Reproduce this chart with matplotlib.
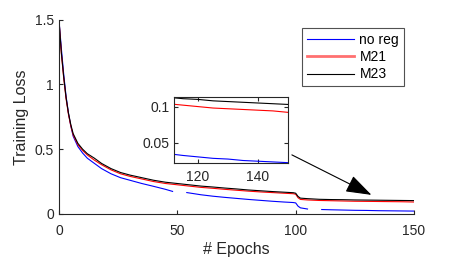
import numpy as np
import matplotlib
matplotlib.use("Agg")
import matplotlib.pyplot as plt
from matplotlib.lines import Line2D

plt.rcParams['font.family'] = ['Liberation Sans', 'DejaVu Sans']

epochs = [0, 1, 2, 3, 4, 5, 6, 8, 10, 12, 15, 18, 22, 26, 30, 35, 40, 45, 50, 55,
          60, 65, 70, 75, 80, 85, 90, 95, 99, 100, 101, 102, 105, 110, 115, 120,
          125, 130, 135, 140, 145, 150]
m23 = [1.50, 1.25, 1.06, 0.90, 0.78, 0.69, 0.62, 0.545, 0.50, 0.465, 0.43, 0.39,
       0.35, 0.32, 0.30, 0.28, 0.26, 0.245, 0.235, 0.225, 0.215, 0.208, 0.200,
       0.193, 0.185, 0.179, 0.173, 0.168, 0.164, 0.160, 0.135, 0.122, 0.118,
       0.113, 0.111, 0.110, 0.108, 0.107, 0.106, 0.105, 0.104, 0.103]
m21 = [1.50, 1.24, 1.05, 0.89, 0.77, 0.68, 0.61, 0.535, 0.49, 0.455, 0.415, 0.38,
       0.34, 0.31, 0.29, 0.27, 0.25, 0.235, 0.225, 0.215, 0.205, 0.198, 0.190,
       0.183, 0.176, 0.170, 0.165, 0.160, 0.156, 0.152, 0.125, 0.112, 0.108,
       0.104, 0.102, 0.100, 0.098, 0.097, 0.096, 0.095, 0.094, 0.092]

noreg_epochs = [0, 1, 2, 3, 4, 5, 6, 8, 10, 12, 15, 18, 22, 26, 30, 35, 40, 45, 48,
                49, 54, 60, 65, 70, 75, 80, 85, 90, 95, 99, 100, 101, 102, 105,
                106, 111, 115, 120, 125, 130, 135, 140, 145, 150]
noreg = [1.50, 1.28, 1.08, 0.91, 0.78, 0.68, 0.60, 0.52, 0.47, 0.43, 0.39, 0.35,
         0.31, 0.28, 0.26, 0.235, 0.213, 0.19, 0.174, np.nan, 0.165, 0.148, 0.137,
         0.128, 0.120, 0.112, 0.105, 0.098, 0.092, 0.088, 0.085, 0.060, 0.047,
         0.038, np.nan, 0.034, 0.032, 0.030, 0.028, 0.027, 0.025, 0.024, 0.023,
         0.022]

labels = ['no reg', 'M21', 'M23']
colors = ['#0000ff', '#ff0000', '#000000']
axcol = '#262626'

fig = plt.figure(figsize=(4.57, 2.59), dpi=100)
ax = fig.add_axes([0.129, 0.174, 0.777, 0.750])

ax.plot(noreg_epochs, noreg, color=colors[0], lw=0.8)
ax.plot(epochs, m21, color=colors[1], lw=0.8)
ax.plot(epochs, m23, color=colors[2], lw=0.8)

ax.set_xlim(0, 150)
ax.set_ylim(0, 1.5)
ax.set_xticks([0, 50, 100, 150])
ax.set_yticks([0, 0.5, 1, 1.5])
ax.set_yticklabels(['0', '0.5', '1', '1.5'])
for s in ['top', 'right']:
    ax.spines[s].set_visible(False)
for s in ['left', 'bottom']:
    ax.spines[s].set_color(axcol)
    ax.spines[s].set_linewidth(0.8)
ax.tick_params(direction='in', length=3, width=0.8, colors=axcol, labelsize=10,
               labelcolor=axcol)
ax.tick_params(axis='x', pad=7)
ax.set_xlabel('# Epochs', fontsize=11.5, color=axcol, labelpad=3)
ax.set_ylabel('Training Loss', fontsize=11.5, color=axcol, labelpad=4)

handles = [Line2D([], [], color='#0000ff', lw=0.8),
           Line2D([], [], color='#ff7070', lw=2.0),
           Line2D([], [], color='#000000', lw=0.8)]
leg = ax.legend(handles, labels, loc='upper left', bbox_to_anchor=(0.684, 0.955),
                fontsize=10, frameon=True, fancybox=False, handlelength=3.4,
                handletextpad=0.4, borderpad=0.35, labelspacing=0.22,
                borderaxespad=0)
leg.get_frame().set_edgecolor(axcol)
leg.get_frame().set_linewidth(0.8)

ax.annotate('', xy=(132, 0.147), xytext=(98.4, 0.456),
            arrowprops=dict(arrowstyle='-|>,head_length=1.6,head_width=0.55',
                            color='black', lw=0.8, shrinkA=0, shrinkB=0))

ins = fig.add_axes([0.381, 0.372, 0.249, 0.2525])
ins.plot(noreg_epochs, noreg, color=colors[0], lw=0.8)
ins.plot(epochs, m21, color=colors[1], lw=0.8)
ins.plot(epochs, m23, color=colors[2], lw=0.8)
ins.set_xlim(112, 150)
ins.set_ylim(0.022, 0.113)
ins.set_xticks([120, 140])
ins.set_yticks([0.05, 0.1])
ins.set_yticklabels(['0.05', '0.1'])
for s in ins.spines.values():
    s.set_color(axcol)
    s.set_linewidth(0.8)
ins.tick_params(direction='in', length=3, width=0.8, colors=axcol, labelsize=10,
                labelcolor=axcol, top=True, right=True)
ins.tick_params(axis='x', pad=5)

fig.savefig('out.png', dpi=100)
